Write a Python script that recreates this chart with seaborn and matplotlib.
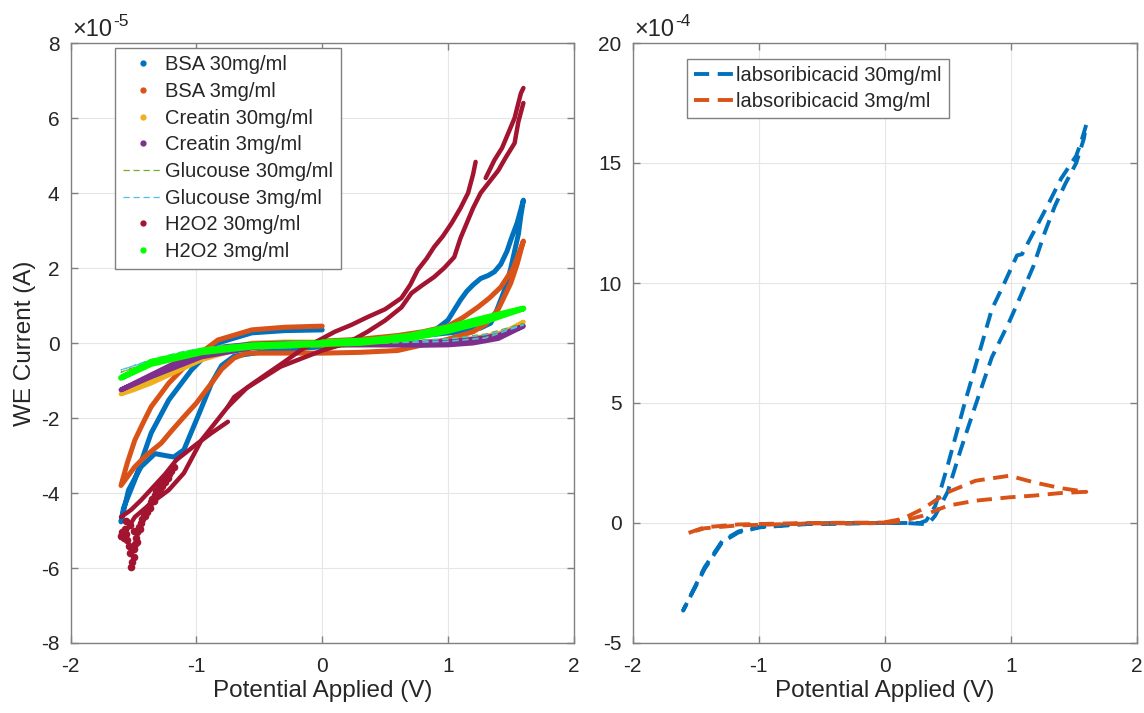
import numpy as np
import pandas as pd
import matplotlib
matplotlib.use("Agg")
import matplotlib.pyplot as plt
from matplotlib.lines import Line2D
from matplotlib.ticker import FuncFormatter, MultipleLocator
import seaborn as sns

# ---------------- data (left panel, current in units of 1e-5 A) ----------------
LEFT_SCALE = 1e-5
RIGHT_SCALE = 1e-4

bsa30_V = [0.0, 0.3, 0.6, 0.9, 1.0, 1.05, 1.1, 1.15, 1.2, 1.26, 1.32, 1.37, 1.42, 1.47, 1.5,
           1.55, 1.6, 1.58, 1.56, 1.5, 1.46, 1.42, 1.38, 1.34, 1.26, 1.1, 0.8, 0.5, 0.0, -0.4,
           -0.7, -0.8, -0.88, -0.99, -1.1, -1.18, -1.25, -1.33, -1.44, -1.54, -1.6, -1.58,
           -1.49, -1.36, -1.22, -1.04, -0.83, -0.56, -0.3, 0.0]
bsa30_I = [0.0, 0.05, 0.15, 0.35, 0.61, 0.88, 1.15, 1.38, 1.55, 1.72, 1.8, 1.9, 2.1, 2.45,
           2.75, 3.2, 3.81, 3.4, 2.9, 2.0, 1.5, 1.15, 0.8, 0.53, 0.4, 0.3, 0.2, 0.05, -0.1,
           -0.2, -0.35, -0.6, -1.07, -1.97, -2.85, -3.04, -3.0, -2.95, -3.3, -3.92, -4.77,
           -4.4, -3.65, -2.4, -1.52, -0.72, 0.0, 0.27, 0.33, 0.35]

bsa3_V = [0.0, 0.3, 0.6, 0.8, 1.0, 1.12, 1.24, 1.33, 1.42, 1.52, 1.6, 1.55, 1.5, 1.4, 1.3,
          1.2, 1.0, 0.8, 0.6, 0.3, 0.0, -0.3, -0.6, -0.7, -0.8, -0.88, -1.0, -1.1, -1.2,
          -1.28, -1.4, -1.49, -1.6, -1.55, -1.49, -1.42, -1.36, -1.22, -1.04, -0.83, -0.56,
          -0.3, 0.0]
bsa3_I = [0.05, 0.1, 0.2, 0.3, 0.45, 0.68, 0.96, 1.2, 1.49, 2.0, 2.72, 2.1, 1.6, 0.9, 0.5,
          0.3, 0.1, -0.05, -0.2, -0.25, -0.27, -0.27, -0.27, -0.4, -0.7, -1.07, -1.6, -1.97,
          -2.35, -2.67, -3.0, -3.3, -3.8, -3.2, -2.59, -2.1, -1.7, -1.07, -0.45, 0.08, 0.35,
          0.42, 0.45]

creatin30_V = [0.0, 0.5, 0.8, 1.0, 1.2, 1.4, 1.5, 1.6, 1.5, 1.4, 1.2, 1.0, 0.8, 0.4, 0.0,
               -0.3, -0.56, -0.7, -0.96, -1.36, -1.5, -1.6, -1.5, -1.36, -1.1, -0.83, -0.56,
               -0.3, 0.0]
creatin30_I = [0.0, 0.0, 0.02, 0.06, 0.12, 0.25, 0.38, 0.56, 0.3, 0.18, 0.04, -0.02, -0.05,
               -0.05, -0.06, -0.08, -0.12, -0.19, -0.45, -1.07, -1.25, -1.36, -1.2, -0.98,
               -0.6, -0.2, 0.0, 0.03, 0.03]

creatin3_V = [0.0, 0.5, 0.8, 1.0, 1.2, 1.4, 1.6, 1.4, 1.2, 1.0, 0.8, 0.4, 0.0, -0.3, -0.56,
              -0.96, -1.36, -1.6, -1.36, -1.1, -0.83, -0.56, -0.3, 0.0]
creatin3_I = [0.0, 0.0, 0.02, 0.05, 0.1, 0.2, 0.45, 0.12, 0.0, -0.05, -0.06, -0.05, -0.05,
              -0.06, -0.13, -0.37, -0.9, -1.25, -0.85, -0.42, -0.12, -0.03, 0.0, 0.0]

glucose30_V = [0.0, 0.5, 1.0, 1.3, 1.6, 1.3, 1.0, 0.5, 0.0, -0.5, -0.83, -1.1, -1.36, -1.6,
               -1.36, -1.1, -0.83, -0.5, 0.0]
glucose30_I = [0.0, 0.02, 0.12, 0.24, 0.52, 0.15, 0.05, 0.0, -0.02, -0.06, -0.14, -0.3,
               -0.5, -0.78, -0.47, -0.24, -0.09, -0.02, 0.0]

glucose3_V = [0.0, 0.5, 1.0, 1.3, 1.6, 1.3, 1.0, 0.5, 0.0, -0.5, -0.83, -1.1, -1.36, -1.6,
              -1.36, -1.1, -0.83, -0.5, 0.0]
glucose3_I = [0.0, 0.02, 0.1, 0.22, 0.48, 0.13, 0.04, 0.0, -0.02, -0.05, -0.12, -0.27,
              -0.46, -0.72, -0.44, -0.22, -0.08, -0.02, 0.0]

h2o2_30_V = [-1.16, -1.0, -0.88, -0.75,
             -0.75, -0.7, -0.56, -0.43, -0.3, -0.17, 0.0, 0.1, 0.23, 0.36, 0.5, 0.63, 0.7,
             0.76, 0.83, 0.89, 0.96, 1.03, 1.1, 1.16, 1.2, 1.22,
             1.3, 1.37, 1.43, 1.48, 1.53, 1.58, 1.6,
             1.6, 1.56, 1.53, 1.46, 1.4, 1.33, 1.26, 1.2, 1.16, 1.1, 1.05, 0.97, 0.89, 0.8,
             0.71, 0.63, 0.5, 0.36, 0.2, 0.0, -0.17, -0.33, -0.6, -0.75, -0.96, -1.1, -1.22,
             -1.36, -1.49, -1.57, -1.6,
             -1.6, -1.52, -1.44, -1.36, -1.25, -1.16]
h2o2_30_I = [-3.12, -2.7, -2.4, -2.1,
             -1.7, -1.44, -1.1, -0.8, -0.5, -0.19, 0.12, 0.3, 0.48, 0.69, 0.9, 1.2, 1.55,
             1.95, 2.25, 2.56, 2.85, 3.2, 3.6, 4.0, 4.5, 4.83,
             4.4, 4.88, 5.2, 5.6, 6.0, 6.66, 6.8,
             6.4, 5.9, 5.33, 4.95, 4.6, 4.3, 4.0, 3.6, 3.28, 2.8, 2.29, 2.0, 1.76, 1.55,
             1.33, 0.95, 0.6, 0.3, 0.0, -0.2, -0.42, -0.63, -1.2, -1.7, -2.59, -3.47, -3.92,
             -4.27, -4.64, -5.07, -5.2,
             -4.64, -4.45, -4.19, -3.9, -3.5, -3.12]
h2o2_30_seg = [0] * 4 + [1] * 22 + [2] * 7 + [3] * 31 + [4] * 6
h2o2_30_noise_V = [-1.6, -1.59, -1.58, -1.57, -1.56, -1.55, -1.54, -1.53, -1.52, -1.51,
                   -1.5, -1.5, -1.49, -1.48, -1.47, -1.46, -1.45, -1.44, -1.43, -1.42,
                   -1.41, -1.4, -1.39, -1.38, -1.37, -1.36, -1.35, -1.34, -1.33, -1.32,
                   -1.31, -1.3, -1.29, -1.28, -1.27, -1.26, -1.25, -1.24, -1.23, -1.22,
                   -1.2, -1.18, -1.56, -1.53, -1.5, -1.47]
h2o2_30_noise_I = [-5.15, -5.05, -5.2, -4.95, -5.1, -5.25, -5.4, -5.6, -5.97, -5.85,
                   -5.7, -5.5, -5.35, -5.2, -5.05, -4.9, -4.95, -4.8, -4.7, -4.55,
                   -4.6, -4.45, -4.5, -4.35, -4.4, -4.25, -4.15, -4.2, -4.05, -3.95,
                   -4.0, -3.85, -3.9, -3.75, -3.8, -3.65, -3.7, -3.55, -3.6, -3.5,
                   -3.4, -3.3, -4.75, -4.85, -5.0, -5.3]

h2o2_3_V = [0.0, 0.4, 0.7, 1.0, 1.3, 1.6, 1.3, 1.0, 0.7, 0.3, 0.0, -0.56, -0.96, -1.36,
            -1.6, -1.36, -0.96, -0.56, 0.0]
h2o2_3_I = [0.02, 0.08, 0.2, 0.42, 0.68, 0.92, 0.58, 0.32, 0.12, 0.0, -0.03, -0.1, -0.25,
            -0.56, -0.93, -0.5, -0.2, -0.06, 0.0]

left_labels = ["BSA 30mg/ml", "BSA 3mg/ml", "Creatin 30mg/ml", "Creatin 3mg/ml",
               "Glucouse 30mg/ml", "Glucouse 3mg/ml", "H2O2 30mg/ml", "H2O2 3mg/ml"]

# ---------------- data (right panel, current in units of 1e-4 A) ----------------
lab30_V = [0.0, 0.17, 0.3, 0.36, 0.4, 0.45, 0.5, 0.6, 0.72, 0.85, 0.99, 1.07, 1.18, 1.27,
           1.35, 1.43, 1.52, 1.58, 1.6,
           1.56, 1.52, 1.4, 1.29, 1.18, 1.09, 1.05, 0.95, 0.85, 0.63, 0.5, 0.45, 0.4, 0.36,
           0.33, 0.28, 0.0, -0.6, -0.99, -1.16, -1.29, -1.43, -1.6,
           -1.43, -1.29, -1.16, -0.99, -0.6, 0.0]
lab30_I = [0.0, 0.0, -0.04, 0.05, 0.3, 0.8, 1.3, 3.0, 4.9, 6.9, 8.4, 9.35, 10.7, 12.1,
           13.2, 14.1, 15.0, 16.0, 16.6,
           15.9, 15.3, 14.35, 13.2, 12.1, 11.2, 11.15, 10.0, 8.9, 4.9, 2.4, 1.5, 0.7, 0.35,
           0.1, 0.0, 0.0, -0.04, -0.18, -0.39, -0.8, -1.92, -3.65,
           -1.85, -0.75, -0.35, -0.15, -0.02, 0.0]

lab3_V = [0.0, 0.14, 0.3, 0.5, 0.72, 0.99, 1.18, 1.4, 1.6,
          1.4, 1.18, 0.99, 0.72, 0.5, 0.3, 0.14, 0.0, -0.6, -1.16, -1.43, -1.56,
          -1.43, -1.16, -0.6, 0.0]
lab3_I = [0.03, 0.17, 0.58, 1.28, 1.76, 1.97, 1.7, 1.45, 1.3,
          1.25, 1.14, 1.07, 0.93, 0.72, 0.3, 0.08, 0.0, -0.02, -0.1, -0.22, -0.42,
          -0.18, -0.06, 0.0, 0.02]

right_labels = ["labsoribicacid 30mg/ml", "labsoribicacid 3mg/ml"]

# ---------------- styling ----------------
C_BLUE, C_ORANGE, C_YELLOW, C_PURPLE = "#0072BD", "#D95319", "#EDB120", "#7E2F8E"
C_LGREEN, C_LBLUE, C_RED, C_GREEN = "#77AC30", "#4DBEEE", "#A2142F", "#00FF00"

sns.set_theme(style="white")
plt.rcParams["font.family"] = ["Liberation Sans", "DejaVu Sans"]
plt.rcParams["axes.unicode_minus"] = False

W, H = 1144, 713
fig = plt.figure(figsize=(W / 100, H / 100), dpi=100)
ax1 = fig.add_axes([70.7 / W, 70 / H, 503 / W, 600 / H])
ax2 = fig.add_axes([632.7 / W, 70 / H, 504 / W, 600 / H])


def draw(ax, V, I, scale, color, lw, seg=None, ls="-", z=2):
    if seg is None:
        seg = [0] * len(V)
    df = pd.DataFrame({"V": V, "I": np.asarray(I, dtype=float) * scale, "seg": seg})
    kws = dict(solid_capstyle="round", solid_joinstyle="round") if ls == "-" else {}
    sns.lineplot(data=df, x="V", y="I", units="seg", estimator=None, sort=False,
                 color=color, lw=lw, linestyle=ls, ax=ax, legend=False, zorder=z, **kws)


# left panel
draw(ax1, bsa30_V, bsa30_I, LEFT_SCALE, C_BLUE, 3.6)
draw(ax1, bsa3_V, bsa3_I, LEFT_SCALE, C_ORANGE, 3.6)
draw(ax1, creatin30_V, creatin30_I, LEFT_SCALE, C_YELLOW, 3.4)
draw(ax1, creatin3_V, creatin3_I, LEFT_SCALE, C_PURPLE, 3.6)
draw(ax1, glucose30_V, glucose30_I, LEFT_SCALE, C_LGREEN, 0.9, ls=(0, (5, 3)))
draw(ax1, glucose3_V, glucose3_I, LEFT_SCALE, C_LBLUE, 0.9, ls=(0, (5, 3)))
draw(ax1, h2o2_30_V, h2o2_30_I, LEFT_SCALE, C_RED, 3.2, seg=h2o2_30_seg)
noise = pd.DataFrame({"V": h2o2_30_noise_V,
                      "I": np.asarray(h2o2_30_noise_I) * LEFT_SCALE})
sns.scatterplot(data=noise, x="V", y="I", color=C_RED, s=30, linewidth=0, ax=ax1,
                legend=False, zorder=2)
draw(ax1, h2o2_3_V, h2o2_3_I, LEFT_SCALE, C_GREEN, 4.2)

# right panel
DASH = (0, (3.9, 2.2))
draw(ax2, lab30_V, lab30_I, RIGHT_SCALE, C_BLUE, 2.8, ls=DASH)
draw(ax2, lab3_V, lab3_I, RIGHT_SCALE, C_ORANGE, 2.8, ls=DASH)

# axes cosmetics (MATLAB-like)
AX_COL = "#808080"
TXT_COL = "#262626"
for ax, scale, ylim, ystep in [(ax1, LEFT_SCALE, (-8, 8), 2), (ax2, RIGHT_SCALE, (-5, 20), 5)]:
    ax.set_xlim(-2, 2)
    ax.set_ylim(ylim[0] * scale, ylim[1] * scale)
    ax.xaxis.set_major_locator(MultipleLocator(1))
    ax.yaxis.set_major_locator(MultipleLocator(ystep * scale))
    ax.yaxis.set_major_formatter(FuncFormatter(lambda v, p, s=scale: f"{v / s:.0f}"))
    ax.xaxis.set_major_formatter(FuncFormatter(lambda v, p: f"{v:.0f}"))
    ax.grid(True, color="#e6e6e6", lw=0.8)
    ax.set_axisbelow(True)
    for sp in ax.spines.values():
        sp.set_color(AX_COL)
        sp.set_linewidth(1.0)
    ax.tick_params(direction="in", length=5, width=1, color=AX_COL, labelsize=15,
                   labelcolor=TXT_COL, top=True, right=True, bottom=True, left=True)
    ax.tick_params(axis="x", pad=10)
    ax.tick_params(axis="y", pad=8)
    ax.set_xlabel("Potential Applied (V)", fontsize=17.5, color=TXT_COL, labelpad=3)
    ax.set_ylabel("")

ax1.set_ylabel("WE Current (A)", fontsize=17.5, color=TXT_COL, labelpad=4)

for ax, expo in [(ax1, "-5"), (ax2, "-4")]:
    t1 = ax.text(0.004, 1.004, "\u00d710", transform=ax.transAxes,
                 ha="left", va="bottom", fontsize=17, color=TXT_COL)
    ax.annotate(expo, xy=(1, 1), xycoords=t1, xytext=(0.5, -2), textcoords="offset points",
                ha="left", va="center", fontsize=12.5, color=TXT_COL)

# legends
left_colors = [C_BLUE, C_ORANGE, C_YELLOW, C_PURPLE, C_LGREEN, C_LBLUE, C_RED, C_GREEN]
handles = []
for lab, col in zip(left_labels, left_colors):
    if lab.startswith("Glucouse"):
        handles.append(Line2D([], [], color=col, lw=0.9, linestyle=(0, (5, 3))))
    else:
        handles.append(Line2D([], [], color=col, marker="o", markersize=3.5,
                              linestyle="None"))
leg1 = ax1.legend(handles, left_labels, loc="upper left", bbox_to_anchor=(0.088, 0.992),
                  borderaxespad=0, fontsize=14.5, frameon=True, fancybox=False,
                  edgecolor=AX_COL, framealpha=1, handlelength=2.0, handletextpad=0.1,
                  labelspacing=0.38, borderpad=0.38)
leg1.get_frame().set_linewidth(1.0)
for t in leg1.get_texts():
    t.set_color(TXT_COL)

rh = [Line2D([], [], color=C_BLUE, lw=2.8, linestyle=DASH),
      Line2D([], [], color=C_ORANGE, lw=2.8, linestyle=DASH)]
leg2 = ax2.legend(rh, right_labels, loc="upper left", bbox_to_anchor=(0.108, 0.973),
                  borderaxespad=0, fontsize=14.5, frameon=True, fancybox=False,
                  edgecolor=AX_COL, framealpha=1, handlelength=2.0, handletextpad=0.1,
                  labelspacing=0.35, borderpad=0.35)
leg2.get_frame().set_linewidth(1.0)
for t in leg2.get_texts():
    t.set_color(TXT_COL)

fig.savefig("out.png", dpi=100, facecolor="white")
